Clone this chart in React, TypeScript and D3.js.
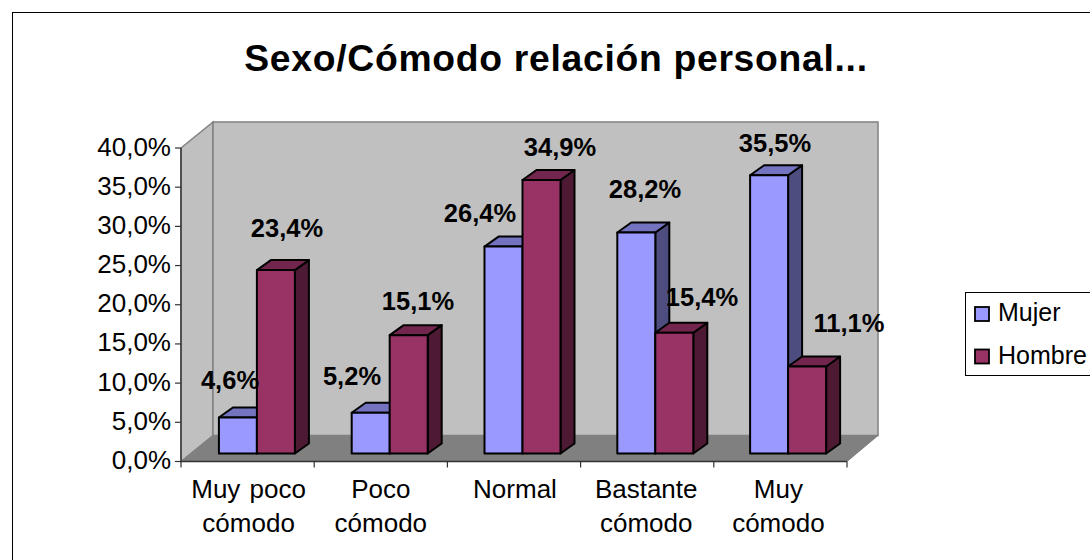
import React from "react";
import * as d3 from "d3";

const categories = [["Muy poco", "cómodo"], ["Poco", "cómodo"], ["Normal"], ["Bastante", "cómodo"], ["Muy", "cómodo"]];
const mujer = [4.6, 5.2, 26.4, 28.2, 35.5];
const hombre = [23.4, 15.1, 34.9, 15.4, 11.1];
const ticks = [0, 5, 10, 15, 20, 25, 30, 35, 40];
const fmt = (v: number) => v.toFixed(1).replace(".", ",") + "%";
const mujerLabelPos = [[230, 381], [352, 377], [480, 214], [645, 190], [775, 144]];
const hombreLabelPos = [[287, 229], [418, 302], [560, 148], [702, 298], [849, 324]];
const categoryNudge = [1, 0, 1, -1, -2];

const W = 1090, H = 560;
const x = d3.scaleBand<number>().domain(d3.range(5)).range([181, 847]);
const xBars = d3.scaleBand<number>().domain(d3.range(5)).range([181, 845]);
const y = d3.scaleLinear().domain([0, 40]).range([461.5, 148]);
const DX = 32, DY = 26;
const bx = 9.5, by = 8, bw = 38, ddx = 14, ddy = 10;
const font = "Liberation Sans, Arial, sans-serif";

function Bar({ x0, v, front, top, side }: { x0: number; v: number; front: string; top: string; side: string }) {
  const b = y(0) - by, t = y(v) - by;
  const line = d3.line();
  return (
    <g stroke="#000" strokeWidth={2} strokeLinejoin="round">
      <path d={line([[x0 + bw, t], [x0 + bw + ddx, t - ddy], [x0 + bw + ddx, b - ddy], [x0 + bw, b]])! + "Z"} fill={side} />
      <path d={line([[x0, t], [x0 + ddx, t - ddy], [x0 + bw + ddx, t - ddy], [x0 + bw, t]])! + "Z"} fill={top} />
      <rect x={x0} y={t} width={bw} height={b - t} fill={front} />
    </g>
  );
}

export default function App() {
  const line = d3.line();
  return (
    <svg width={W} height={H} style={{ position: "fixed", left: 0, top: 0, background: "#fff" }} fontFamily={font}>
      <rect x={12.5} y={12.5} width={1100} height={600} fill="#fff" stroke="#000" />
      <text x={556} y={71} textAnchor="middle" fontSize={37.3} fontWeight="bold" letterSpacing={0.7}>Sexo/Cómodo relación personal...</text>

      <path d={line([[181, y(40)], [181 + DX, y(40) - DY], [181 + DX, y(0) - DY], [181, y(0)]])! + "Z"} fill="#c0c0c0" stroke="#808080" strokeWidth={1.5} />
      <rect x={181 + DX} y={y(40) - DY} width={665} height={313.5} fill="#c0c0c0" stroke="#808080" strokeWidth={1.5} />
      <path d={line([[181, y(0)], [181 + DX, y(0) - DY], [878, y(0) - DY], [847, y(0)]])! + "Z"} fill="#808080" stroke="#808080" />

      <line x1={181} x2={181} y1={y(40)} y2={y(0)} stroke="#333" strokeWidth={1.4} />
      <line x1={181} x2={847} y1={y(0)} y2={y(0)} stroke="#333" strokeWidth={1.4} />
      {ticks.map(t => (
        <g key={t}>
          <line x1={175} x2={181} y1={y(t)} y2={y(t)} stroke="#333" strokeWidth={1.2} />
          <text x={171} y={y(t) + 7.5} textAnchor="end" fontSize={26}>{fmt(t)}</text>
        </g>
      ))}
      {d3.range(6).map(i => (
        <line key={i} x1={181 + i * x.step()} x2={181 + i * x.step()} y1={y(0)} y2={y(0) + 6} stroke="#333" strokeWidth={1.2} />
      ))}
      {categories.map((c, i) => (
        <text key={i} textAnchor="middle" fontSize={26}>
          {c.map((s, j) => (
            <tspan key={j} x={x(i)! + x.bandwidth() / 2 + categoryNudge[i]} y={498 + j * 33.5} wordSpacing={2}>{s}</tspan>
          ))}
        </text>
      ))}

      {categories.map((_, i) => {
        const cx = xBars(i)! + xBars.bandwidth() / 2 + bx;
        return (
          <g key={i}>
            <Bar x0={cx - bw} v={mujer[i]} front="#9999ff" top="#7373bf" side="#4d4d80" />
            <Bar x0={cx} v={hombre[i]} front="#993366" top="#73264d" side="#4d1933" />
          </g>
        );
      })}

      {mujer.map((v, i) => (
        <text key={i} x={mujerLabelPos[i][0]} y={mujerLabelPos[i][1] + 8} textAnchor="middle" fontSize={25.5} fontWeight="bold">{fmt(v)}</text>
      ))}
      {hombre.map((v, i) => (
        <text key={i} x={hombreLabelPos[i][0]} y={hombreLabelPos[i][1] + 8} textAnchor="middle" fontSize={25.5} fontWeight="bold">{fmt(v)}</text>
      ))}

      <rect x={965.5} y={292.5} width={130} height={83} fill="#fff" stroke="#000" />
      <rect x={975} y={307} width={14} height={14} fill="#9999ff" stroke="#000" strokeWidth={1.8} />
      <rect x={975} y={349.5} width={14} height={14} fill="#993366" stroke="#000" strokeWidth={1.8} />
      <text x={998} y={321} fontSize={25}>Mujer</text>
      <text x={998} y={364} fontSize={25}>Hombre</text>
    </svg>
  );
}
